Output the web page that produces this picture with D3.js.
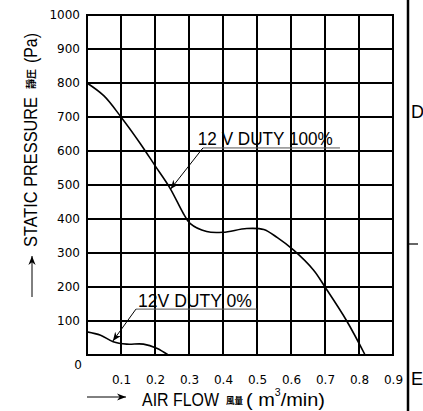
<!DOCTYPE html>
<html>
<head>
<meta charset="utf-8">
<script src="https://cdn.jsdelivr.net/npm/d3@7"></script>
<style>
  body { margin: 0; background: #fff; }
  svg { display: block; }
  .cond { font-family: "Liberation Sans", Arial, sans-serif; }
  .tick text { font-family: "DejaVu Sans", sans-serif; font-size: 12px; fill: #000; }
</style>
</head>
<body>
<div class="chart"></div>
<script>
// axis ticks
var xTicks = [0.1, 0.2, 0.3, 0.4, 0.5, 0.6, 0.7, 0.8, 0.9];
var yTicks = [100, 200, 300, 400, 500, 600, 700, 800, 900, 1000];
var xGrid = [0, 0.1, 0.2, 0.3, 0.4, 0.5, 0.6, 0.7, 0.8, 0.9];
var yGrid = [0, 100, 200, 300, 400, 500, 600, 700, 800, 900, 1000];

// 12V duty 100%
var flow100 = [0, 0.05, 0.1, 0.156, 0.2, 0.244, 0.283, 0.303, 0.352, 0.40, 0.47, 0.52, 0.56, 0.607, 0.666, 0.70, 0.764, 0.818];
var press100 = [800, 762, 700, 623, 557, 491, 417, 387, 363, 361, 372, 369, 345, 309, 250, 200, 100, 0];

// 12V duty 0%
var flow0 = [0, 0.04, 0.077, 0.117, 0.166, 0.205, 0.239];
var press0 = [68, 58, 39, 32, 32, 20, 0];

var W = 423, H = 411;
var margin = {top: 15, left: 87, right: 30, bottom: 56};

var x = d3.scaleLinear().domain([0, 0.9]).range([margin.left, 393]);
var y = d3.scaleLinear().domain([0, 1000]).range([355, margin.top]);

var svg = d3.select(".chart").append("svg")
  .attr("width", W)
  .attr("height", H);

var defs = svg.append("defs");
defs.append("marker")
  .attr("id", "arr")
  .attr("viewBox", "0 0 10 10")
  .attr("refX", 10).attr("refY", 5)
  .attr("markerWidth", 9).attr("markerHeight", 9)
  .attr("markerUnits", "userSpaceOnUse")
  .attr("orient", "auto")
  .append("path")
  .attr("d", "M0,1 L10,5 L0,9 L3,5 Z")
  .attr("fill", "#000");

// grid
svg.append("g").selectAll("line")
  .data(xGrid)
  .enter().append("line")
  .attr("x1", d => x(d)).attr("x2", d => x(d))
  .attr("y1", y(0)).attr("y2", y(1000))
  .attr("stroke", "#000").attr("stroke-width", 2);

svg.append("g").selectAll("line")
  .data(yGrid)
  .enter().append("line")
  .attr("y1", d => y(d)).attr("y2", d => y(d))
  .attr("x1", x(0) - 1).attr("x2", x(0.9) + 1)
  .attr("stroke", "#000").attr("stroke-width", 2);

// tick labels
var yAxis = svg.append("g")
  .attr("transform", "translate(" + margin.left + ",0)")
  .call(d3.axisLeft(y).tickValues(yTicks).tickSize(0).tickPadding(7).tickFormat(d3.format("d")));
yAxis.select(".domain").remove();

var xAxis = svg.append("g")
  .attr("transform", "translate(0," + y(0) + ")")
  .call(d3.axisBottom(x).tickValues(xTicks).tickSize(0).tickPadding(20).tickFormat(d3.format(".1f")));
xAxis.select(".domain").remove();

svg.append("text")
  .attr("x", 78).attr("y", 369)
  .attr("text-anchor", "middle")
  .style("font-family", "DejaVu Sans, sans-serif")
  .style("font-size", "12px")
  .text("0");

// curves
var line = d3.line()
  .x(d => x(d[0]))
  .y(d => y(d[1]))
  .curve(d3.curveCatmullRom.alpha(0.5));

svg.append("path")
  .datum(d3.zip(flow100, press100))
  .attr("d", line)
  .attr("fill", "none")
  .attr("stroke", "#000")
  .attr("stroke-width", 1.6);

svg.append("path")
  .datum(d3.zip(flow0, press0))
  .attr("d", line)
  .attr("fill", "none")
  .attr("stroke", "#000")
  .attr("stroke-width", 1.6);

// annotations
function note(label, tx, ty, ux1, ux2, uy, tipX, tipY, len) {
  svg.append("line")
    .attr("x1", x(ux1)).attr("x2", x(ux2))
    .attr("y1", y(uy)).attr("y2", y(uy))
    .attr("stroke", "#555").attr("stroke-width", 1);
  svg.append("line")
    .attr("x1", x(ux1)).attr("y1", y(uy))
    .attr("x2", x(tipX)).attr("y2", y(tipY))
    .attr("stroke", "#000").attr("stroke-width", 1)
    .attr("marker-end", "url(#arr)");
  svg.append("text")
    .attr("class", "cond")
    .attr("x", x(tx)).attr("y", y(ty))
    .attr("textLength", len)
    .attr("lengthAdjust", "spacingAndGlyphs")
    .style("font-size", "18px")
    .text(label);
}
note("12 V DUTY 100%", 0.326, 618, 0.341, 0.744, 609, 0.246, 488, 135);
note("12V DUTY 0%", 0.15, 142, 0.144, 0.5, 135, 0.076, 41, 114);

// y title
var yt = svg.append("g").attr("transform", "translate(37,247) rotate(-90)");
yt.append("text").attr("class", "cond")
  .attr("x", 0).attr("y", 0)
  .attr("textLength", 150).attr("lengthAdjust", "spacingAndGlyphs")
  .style("font-size", "19px")
  .text("STATIC PRESSURE");
yt.append("text")
  .attr("x", 158).attr("y", -2)
  .attr("textLength", 20).attr("lengthAdjust", "spacingAndGlyphs")
  .style("font-family", "Noto Sans CJK JP, sans-serif")
  .style("font-weight", "bold")
  .style("font-size", "10px")
  .text("靜圧");
yt.append("text").attr("class", "cond")
  .attr("x", 184).attr("y", 0)
  .attr("textLength", 30).attr("lengthAdjust", "spacingAndGlyphs")
  .style("font-size", "19px")
  .text("(Pa)");

svg.append("line")
  .attr("x1", 32).attr("x2", 32)
  .attr("y1", 297).attr("y2", 256)
  .attr("stroke", "#000").attr("stroke-width", 1)
  .attr("marker-end", "url(#arr)");

// x title
svg.append("line")
  .attr("x1", 87).attr("x2", 126)
  .attr("y1", 397).attr("y2", 397)
  .attr("stroke", "#000").attr("stroke-width", 1)
  .attr("marker-end", "url(#arr)");
svg.append("text").attr("class", "cond")
  .attr("transform", "translate(142,406) scale(0.84,1)")
  .style("font-size", "19px")
  .text("AIR FLOW");
svg.append("text")
  .attr("x", 226).attr("y", 404)
  .attr("textLength", 17).attr("lengthAdjust", "spacingAndGlyphs")
  .style("font-family", "Noto Sans CJK JP, sans-serif")
  .style("font-weight", "bold")
  .style("font-size", "9px")
  .text("風量");
var unit = svg.append("text").attr("class", "cond")
  .attr("x", 246).attr("y", 406)
  .attr("textLength", 79).attr("lengthAdjust", "spacingAndGlyphs")
  .style("font-size", "19px");
unit.append("tspan").text("( m");
unit.append("tspan").attr("dy", -10).style("font-size", "10px").text("3");
unit.append("tspan").attr("dy", 10).text("/min)");

// right frame
svg.append("line")
  .attr("x1", 408).attr("x2", 408)
  .attr("y1", 0).attr("y2", H)
  .attr("stroke", "#000").attr("stroke-width", 2.5);
svg.append("line")
  .attr("x1", 408).attr("x2", 418)
  .attr("y1", 244).attr("y2", 244)
  .attr("stroke", "#000").attr("stroke-width", 1.2);
svg.append("text").attr("class", "cond")
  .attr("x", 411).attr("y", 118)
  .style("font-size", "18px")
  .text("D");
svg.append("text").attr("class", "cond")
  .attr("x", 411).attr("y", 385)
  .style("font-size", "18px")
  .text("E");
</script>
</body>
</html>
